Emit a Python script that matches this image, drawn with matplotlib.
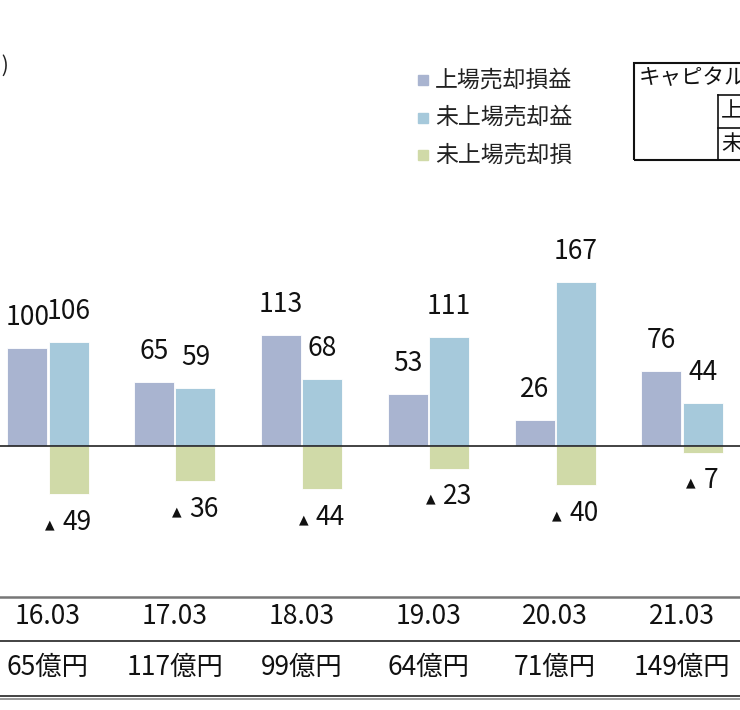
import matplotlib
matplotlib.use("Agg")
from matplotlib import pyplot as plt
from matplotlib.patches import Rectangle
from matplotlib.lines import Line2D

plt.rcParams['font.family'] = ['Noto Sans CJK JP', 'DejaVu Sans']

years = ['16.03', '17.03', '18.03', '19.03', '20.03', '21.03']
listed = [100, 65, 113, 53, 26, 76]
unlisted_gain = [106, 59, 68, 111, 167, 44]
unlisted_loss = [-49, -36, -44, -23, -40, -7]
capital_gain = ['65億円', '117億円', '99億円', '64億円', '71億円', '149億円']
series_names = ['上場売却損益', '未上場売却益', '未上場売却損']
colors = ['#a9b4d0', '#a6c9db', '#d0daa8']

W, H = 740, 710
fig = plt.figure(figsize=(W / 100, H / 100), dpi=100)
ax = fig.add_axes([0, 0, 1, 1])

# pixel helpers (from top-left of picture)
def fy(py):
    return 1 - py / H

def fx(px):
    return px / W

step = 126.8
x0 = 48
ax.set_xlim(-x0 / step, (W - x0) / step)
scale = 0.982
zero_py = 446
ax.set_ylim(-(H - zero_py) / scale, zero_py / scale)
ax.axis('off')

xs = list(range(len(years)))
bw = 0.315
off = 0.163
b1 = ax.bar([x - off for x in xs], listed, bw, color=colors[0], edgecolor='white', linewidth=0.6)
b2 = ax.bar([x + off for x in xs], unlisted_gain, bw, color=colors[1], edgecolor='white', linewidth=0.6)
b3 = ax.bar([x + off for x in xs], unlisted_loss, bw, color=colors[2], edgecolor='white', linewidth=0.6)

ax.axhline(0, color='#222222', lw=1.2)

for bars, vals in [(b1, listed), (b2, unlisted_gain)]:
    for r, v in zip(bars, vals):
        ax.annotate(str(v), (r.get_x() + r.get_width() / 2, v),
                    xytext=(0, 17 * 0.72), textcoords='offset points',
                    ha='center', va='bottom', fontsize=19, color='#111111')

# negative labels: small triangle + number, centred under the bar
for r, v in zip(b3, unlisted_loss):
    cx = r.get_x() + r.get_width() / 2
    k = len(str(abs(v)))
    total = 18 + 14.5 * k
    left = -total / 2
    ax.annotate('▲', (cx, v), xytext=((left + 4.8) * 0.72, -30.5 * 0.72),
                textcoords='offset points', ha='center', va='center',
                fontsize=9, family='DejaVu Sans', color='#111111')
    ax.annotate(str(abs(v)), (cx, v), xytext=((left + 17) * 0.72, -28 * 0.72),
                textcoords='offset points', ha='left', va='center',
                fontsize=19, color='#111111')

# unit label (clipped at the left edge)
fig.text(fx(9), fy(66), '(億円)', ha='right', va='center', fontsize=15, color='#222222')

# legend
for i, (name, c) in enumerate(zip(series_names, colors)):
    cy = 80 + 37.5 * i
    fig.patches.append(Rectangle((fx(418), fy(cy + 5)), 10 / W, 10 / H,
                                 transform=fig.transFigure, color=c))
    fig.text(fx(435), fy(cy), name, ha='left', va='center', fontsize=16.5, color='#222222')

# capital gain box (clipped at right)
fig.patches.append(Rectangle((fx(634), fy(160)), 200 / W, 97 / H, transform=fig.transFigure,
                             fill=False, edgecolor='#111111', lw=1.5))
fig.text(fx(639), fy(78), 'キャピタルゲイン', ha='left', va='center', fontsize=15.5, color='#111111')
fig.lines.append(Line2D([fx(718), fx(718)], [fy(95), fy(160)], transform=fig.transFigure,
                        color='#111111', lw=1.2))
for py in [95, 128]:
    fig.lines.append(Line2D([fx(718), 1], [fy(py), fy(py)], transform=fig.transFigure,
                            color='#111111', lw=1.2))
fig.text(fx(721), fy(112), '上場', ha='left', va='center', fontsize=15.5, color='#111111')
fig.text(fx(721), fy(145), '未上場', ha='left', va='center', fontsize=15.5, color='#111111')

# bottom table
tr = ax.get_xaxis_transform()
ax.add_line(Line2D([0, 1], [fy(597), fy(597)], transform=ax.transAxes, color='#777777', lw=1.8))
ax.add_line(Line2D([0, 1], [fy(641), fy(641)], transform=ax.transAxes, color='#222222', lw=1.2))
ax.add_line(Line2D([0, 1], [fy(696), fy(696)], transform=ax.transAxes, color='#222222', lw=1.2))
ax.add_line(Line2D([0, 1], [fy(698.5), fy(698.5)], transform=ax.transAxes, color='#888888', lw=1.2))
for x, yr, cg in zip(xs, years, capital_gain):
    ax.text(x, fy(617), yr, transform=tr, ha='center', va='center', fontsize=19, color='#111111')
    ax.text(x, fy(667), cg, transform=tr, ha='center', va='center', fontsize=19, color='#111111')

fig.savefig('out.png', dpi=100)
